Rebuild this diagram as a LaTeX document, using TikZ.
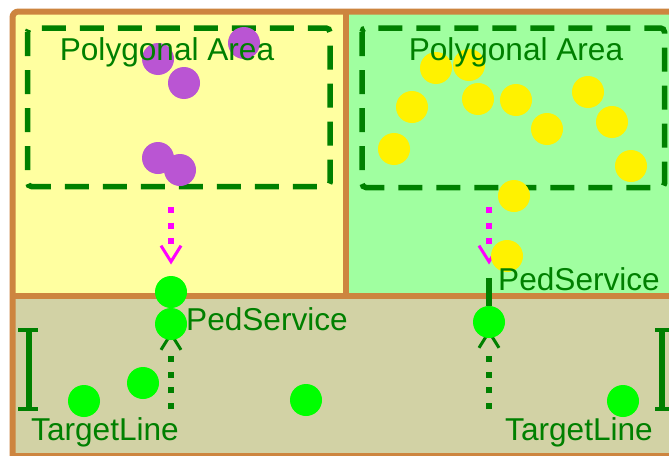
\documentclass[tikz,border=0pt]{standalone}
\usepackage{fontspec}
\setmainfont{Liberation Sans}
\usetikzlibrary{arrows.meta}

\definecolor{frame}{RGB}{205,133,63}
\definecolor{paleyellow}{RGB}{255,255,160}
\definecolor{palegreen}{RGB}{160,255,160}
\definecolor{khakibg}{RGB}{210,210,165}
\definecolor{darkgreen}{RGB}{0,128,0}
\definecolor{brightgreen}{RGB}{0,255,0}
\definecolor{orchidfill}{RGB}{186,85,211}
\definecolor{pink}{RGB}{255,0,255}

\pgfdeclarelayer{panels}
\pgfdeclarelayer{links}
\pgfsetlayers{panels,links,main}

\begin{document}
\begin{tikzpicture}[x=1pt,y=-1pt,
  tagtext/.style={text=darkgreen, font=\fontsize{31.6}{36}\selectfont, inner sep=0pt},
  dot/.style={circle, inner sep=0pt, minimum size=32pt},
  pedA/.style={dot, fill=orchidfill},
  pedB/.style={dot, fill=yellow},
  pedC/.style={dot, fill=brightgreen},
  area/.style={draw=darkgreen, line width=5.5pt, dash pattern=on 24pt off 14pt, rounded corners=4pt},
  wall/.style={draw=frame, line width=6pt},
  flowdown/.style={pink, line width=6pt,
    dash pattern=on 6pt off 9.5pt on 6pt off 9.5pt on 6pt off 60pt,
    -{Straight Barb[length=16pt, width=20pt, line width=3pt]}},
  flowup/.style={darkgreen, line width=6pt,
    dash pattern=on 6pt off 9.7pt on 6pt off 9.7pt on 6pt off 9.7pt on 6pt off 60pt,
    -{Straight Barb[length=16pt, width=20pt, line width=3pt]}, shorten >=7pt},
  ibeam/.style={darkgreen}
]
\clip (0,0) rectangle (669,455);
\useasboundingbox (0,0) rectangle (669,455);

% panels and frame
\begin{pgfonlayer}{panels}
  \fill[white] (0,0) rectangle (669,455);
  \fill[paleyellow] (12.5,11.5) rectangle (346,296);
  \fill[palegreen] (346,11.5) rectangle (700,296);
  \fill[khakibg] (12.5,296) rectangle (700,470);
  \draw[wall, rounded corners=6pt] (12.5,456) -- (12.5,11.5) -- (700,11.5);
  \draw[wall] (12.5,456) -- (700,456);
  \draw[wall] (346,11.5) -- (346,296);
  \draw[wall] (12.5,296) -- (700,296);
  % polygonal areas
  \draw[area] (27.5,28) rectangle (330,186.5);
  \draw[area] (362,28) rectangle (664.5,187.5);
\end{pgfonlayer}

% pedestrians in the left area
\node[pedA] (a1) at (158,59) {};
\node[pedA] (a2) at (244,43) {};
\node[pedA] (a3) at (184,83) {};
\node[pedA] (a4) at (158,158) {};
\node[pedA] (a5) at (180,170) {};

% pedestrians in the right area
\node[pedB] (b1) at (436,68) {};
\node[pedB] (b2) at (469,65) {};
\node[pedB] (b3) at (412,107) {};
\node[pedB] (b4) at (478,99) {};
\node[pedB] (b5) at (516,100) {};
\node[pedB] (b6) at (588,92) {};
\node[pedB] (b7) at (547,129) {};
\node[pedB] (b8) at (612,122) {};
\node[pedB] (b9) at (394,149) {};
\node[pedB] (b10) at (631,166) {};
\node[pedB] (b11) at (514,196) {};
\node[pedB] (b12) at (507,256) {};

% pedestrians in the service zone
\node[pedC] (ps0) at (171,292) {};
\node[pedC] (ps1) at (171,324) {};
\node[pedC] (c2) at (143,383) {};
\node[pedC] (c3) at (84,401) {};
\node[pedC] (c4) at (306,400) {};
\node[pedC] (ps2) at (489,322) {};
\node[pedC] (c6) at (623,401) {};

% connectors
\coordinate (mA) at (171,207);
\coordinate (mAend) at (171,264.5);
\coordinate (mB) at (489,207);
\coordinate (mBend) at (489,264.5);
\coordinate (tA) at (171,409);
\coordinate (tB) at (489,409);
\coordinate (psTop) at (489,278);
\begin{pgfonlayer}{links}
  \draw[flowdown] (mA) -- (mAend);
  \draw[flowdown] (mB) -- (mBend);
  \draw[flowup] (tA) -- (ps1.center);
  \draw[flowup] (tB) -- (ps2.center);
  \draw[darkgreen, line width=6pt] (psTop) -- (ps2);
\end{pgfonlayer}

% labels
\node[tagtext, anchor=base] (polyA) at (167,60) {Polygonal Area};
\node[tagtext, anchor=base] (polyB) at (516,60) {Polygonal Area};
\node[tagtext, anchor=base west] (svcA) at (186,330) {PedService};
\node[tagtext, anchor=base west] (svcB) at (498,290) {PedService};
\node[tagtext, anchor=base west] (lineA) at (31,440) {TargetLine};
\node[tagtext, anchor=base west] (lineB) at (505,440) {TargetLine};

% target line markers
\draw[ibeam, line width=6pt] (28.5,330) -- (28.5,409);
\draw[ibeam, line width=4pt] (18,330) -- (38,330) (18,409) -- (38,409);
\draw[ibeam, line width=6pt] (662,330) -- (662,409);
\draw[ibeam, line width=4pt] (655,330) -- (675,330) (655,409) -- (675,409);
\end{tikzpicture}
\end{document}
